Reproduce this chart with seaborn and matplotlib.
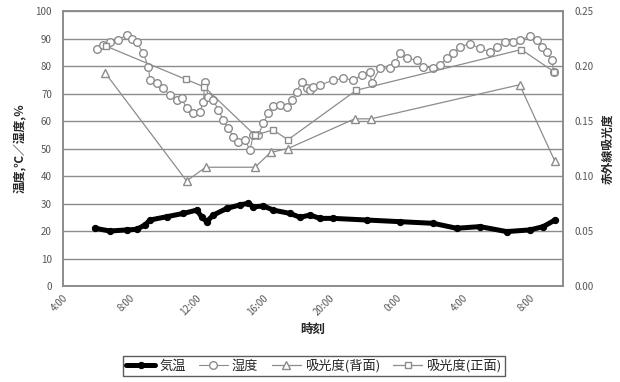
import numpy as np
import pandas as pd
import matplotlib
matplotlib.use("Agg")
import matplotlib.pyplot as plt
import seaborn as sns
from matplotlib.ticker import FuncFormatter, MultipleLocator

# time in hours from 0:00 of day 1 (values >24 are the next morning)
temp_t = [5.92, 6.82, 7.82, 8.42, 8.92, 9.22, 10.22, 11.22, 12.02, 12.32, 12.62, 13.02,
          13.82, 14.62, 15.12, 15.42, 16.02, 16.62, 17.62, 18.22, 18.82, 19.42, 20.22,
          22.22, 24.22, 26.22, 27.62, 29.02, 30.62, 32.02, 32.82, 33.52]
temp_v = [21.0, 20.0, 20.4, 20.6, 22.2, 24.0, 25.2, 26.4, 27.6, 25.2, 23.4, 25.8,
          28.2, 29.5, 30.1, 28.8, 29.1, 27.6, 26.4, 25.0, 25.8, 24.6, 24.6,
          24.0, 23.4, 22.8, 21.0, 21.6, 19.8, 20.4, 21.6, 24.0]

hum_t = [6.02, 6.42, 6.82, 7.32, 7.82, 8.12, 8.42, 8.82, 9.12, 9.22, 9.62, 10.02, 10.42,
         10.82, 11.12, 11.42, 11.82, 12.22, 12.42, 12.52, 12.72, 13.02, 13.32, 13.62,
         13.92, 14.22, 14.52, 14.92, 15.22, 15.42, 15.72, 16.02, 16.32, 16.62, 17.02,
         17.42, 17.72, 18.02, 18.32, 18.62, 18.82, 19.02, 19.42, 20.22, 20.82, 21.42,
         21.92, 22.42, 22.52, 23.02, 23.62, 23.92, 24.22, 24.62, 25.22, 25.62, 26.22,
         26.62, 27.02, 27.42, 27.82, 28.42, 29.02, 29.62, 30.02, 30.52, 31.02, 31.42,
         32.02, 32.42, 32.72, 33.02, 33.32, 33.45]
hum_v = [86.1, 87.6, 88.8, 89.5, 91.3, 90.0, 88.8, 84.6, 79.8, 74.9, 73.7, 71.9, 69.5,
         67.6, 68.3, 64.6, 62.8, 63.4, 67.0, 74.3, 68.8, 67.6, 64.0, 60.4,
         57.3, 54.3, 52.5, 53.1, 49.5, 54.9, 54.9, 59.2, 62.8, 65.5, 65.8,
         65.2, 67.6, 70.7, 74.3, 71.9, 71.3, 72.5, 73.1, 74.9, 75.5, 74.9,
         76.7, 77.9, 73.7, 79.2, 79.2, 81.0, 84.6, 82.8, 82.2, 79.8, 79.2,
         80.4, 82.8, 84.6, 87.0, 88.2, 86.4, 85.2, 87.0, 88.8, 88.8, 89.5,
         90.9, 89.5, 87.0, 85.2, 82.2, 78.0]

back_t = [6.52, 11.42, 12.56, 15.52, 16.46, 17.5, 21.5, 22.48, 31.4, 33.5]
back_v = [0.194, 0.0955, 0.108, 0.108, 0.1215, 0.125, 0.152, 0.152, 0.183, 0.114]

front_t = [6.6, 11.36, 12.48, 15.52, 16.6, 17.5, 21.6, 31.5, 33.45]
front_v = [0.218, 0.188, 0.181, 0.137, 0.142, 0.133, 0.178, 0.215, 0.195]

tick_hours = [4, 8, 12, 16, 20, 24, 28, 32]

sns.set_style("white")
plt.rcParams["font.family"] = ["Noto Sans CJK JP", "DejaVu Sans"]

GRAY = "#8c8c8c"
fig = plt.figure(figsize=(6.2, 3.82), dpi=100)
ax = fig.add_axes([0.1016, 0.2513, 0.8064, 0.7197])
ax2 = ax.twinx()

sns.lineplot(x=temp_t, y=temp_v, ax=ax, color="black", linewidth=3.6, marker="o",
             markersize=4.5, markeredgecolor="black", label="気温", legend=False)
sns.lineplot(x=hum_t, y=hum_v, ax=ax, color=GRAY, linewidth=0.8, marker="o",
             markersize=5.5, markerfacecolor="white", markeredgecolor=GRAY,
             markeredgewidth=1.0, label="湿度", legend=False)
sns.lineplot(x=back_t, y=back_v, ax=ax2, color=GRAY, linewidth=0.9, marker="^",
             markersize=6, markerfacecolor="white", markeredgecolor=GRAY,
             markeredgewidth=1.0, label="吸光度(背面)", legend=False)
sns.lineplot(x=front_t, y=front_v, ax=ax2, color=GRAY, linewidth=0.9, marker="s",
             markersize=5, markerfacecolor="white", markeredgecolor=GRAY,
             markeredgewidth=1.0, label="吸光度(正面)", legend=False)

ax.set_xlim(4, 34)
ax.set_ylim(0, 100)
ax2.set_ylim(0, 0.25)
ax.set_xticks(tick_hours)
ax.xaxis.set_major_formatter(FuncFormatter(lambda v, p: f"{int(v) % 24}:00"))
ax.yaxis.set_major_locator(MultipleLocator(10))
ax2.yaxis.set_major_locator(MultipleLocator(0.05))
ax2.yaxis.set_major_formatter(FuncFormatter(lambda v, p: f"{v:.2f}"))

ax.grid(axis="y", color=GRAY, linewidth=1.0)
ax.grid(axis="x", visible=False)
ax2.grid(False)
for a in (ax, ax2):
    for s in a.spines.values():
        s.set_color(GRAY)
        s.set_linewidth(1.2)

ax.tick_params(axis="x", labelsize=7, labelcolor="#555555", rotation=45, direction="inout",
               length=4, color=GRAY, pad=3)
for lbl in ax.get_xticklabels():
    lbl.set_ha("right")
    lbl.set_rotation_mode("anchor")
ax.tick_params(axis="y", labelsize=7, labelcolor="#555555", length=0, pad=8)
ax2.tick_params(axis="y", labelsize=7, labelcolor="#555555", length=0, pad=8)

ax.set_xlabel("時刻", fontsize=9, fontweight="bold", labelpad=4)
ax.set_ylabel("温度,℃／湿度,％", fontsize=8.5, fontweight="bold", labelpad=6)
ax2.set_ylabel("赤外線吸光度", fontsize=8.5, fontweight="bold", labelpad=6)

h1, l1 = ax.get_legend_handles_labels()
h2, l2 = ax2.get_legend_handles_labels()
leg = fig.legend(h1 + h2, l1 + l2, loc="center", bbox_to_anchor=(0.506, 0.042), ncol=4,
                 frameon=True, fancybox=False, fontsize=9.5, handlelength=2.2,
                 handletextpad=0.3, columnspacing=1.0, borderpad=0.25)
leg.get_frame().set_edgecolor("#333333")
leg.get_frame().set_linewidth(1.0)

fig.savefig("out.png", dpi=100)
